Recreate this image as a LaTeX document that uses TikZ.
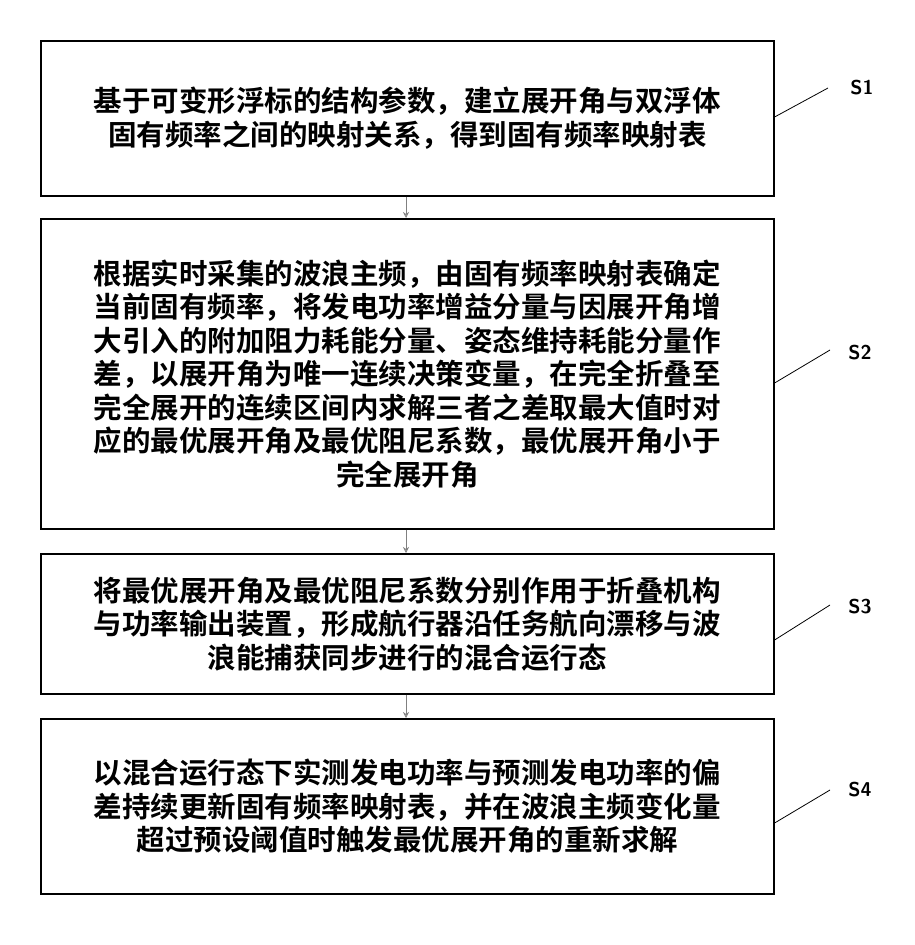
\documentclass[tikz,border=0pt]{standalone}
\usepackage{fontspec}
\setmainfont{Noto Sans CJK SC}[BoldFont={Noto Sans CJK SC Bold}]
\usetikzlibrary{arrows.meta}
\begin{document}
\begin{tikzpicture}[x=1pt,y=-1pt,
  box/.style={draw,line width=1.6pt,minimum width=733pt,anchor=north west,inner sep=0pt,align=center,font=\fontsize{28.5}{33.5}\selectfont\bfseries},
  arr/.style={draw=gray,line width=0.8pt,-{Stealth[length=6pt,width=6pt,open]}},
  lead/.style={line width=0.8pt},
  lab/.style={font=\fontsize{20}{24}\selectfont\sffamily\bfseries}]
\useasboundingbox (0,0) rectangle (914,945);
\node[box,minimum height=155pt] (b1) at (40,40) {基于可变形浮标的结构参数，建立展开角与双浮体\\固有频率之间的映射关系，得到固有频率映射表};
\node[box,minimum height=310pt] (b2) at (40,218) {根据实时采集的波浪主频，由固有频率映射表确定\\当前固有频率，将发电功率增益分量与因展开角增\\大引入的附加阻力耗能分量、姿态维持耗能分量作\\差，以展开角为唯一连续决策变量，在完全折叠至\\完全展开的连续区间内求解三者之差取最大值时对\\应的最优展开角及最优阻尼系数，最优展开角小于\\完全展开角};
\node[box,minimum height=140pt] (b3) at (40,553) {将最优展开角及最优阻尼系数分别作用于折叠机构\\与功率输出装置，形成航行器沿任务航向漂移与波\\浪能捕获同步进行的混合运行态};
\node[box,minimum height=175pt] (b4) at (40,718) {以混合运行态下实测发电功率与预测发电功率的偏\\差持续更新固有频率映射表，并在波浪主频变化量\\超过预设阈值时触发最优展开角的重新求解};
\draw[arr] (b1.south -| 406,0) -- (b2.north -| 406,0);
\draw[arr] (b2.south -| 406,0) -- (b3.north -| 406,0);
\draw[arr] (b3.south -| 406,0) -- (b4.north -| 406,0);
\node[lab] (s1) at (862,88) {S1};
\node[lab] (s2) at (860,353) {S2};
\node[lab] (s3) at (860,607) {S3};
\node[lab] (s4) at (860,790) {S4};
\coordinate (e1) at (828,88);
\coordinate (e2) at (830,350);
\coordinate (e3) at (830,605);
\coordinate (e4) at (830,790);
\draw[lead] (b1.east |- 0,117) -- (e1);
\draw[lead] (b2.east |- 0,383) -- (e2);
\draw[lead] (b3.east |- 0,640) -- (e3);
\draw[lead] (b4.east |- 0,823) -- (e4);
\end{tikzpicture}
\end{document}
